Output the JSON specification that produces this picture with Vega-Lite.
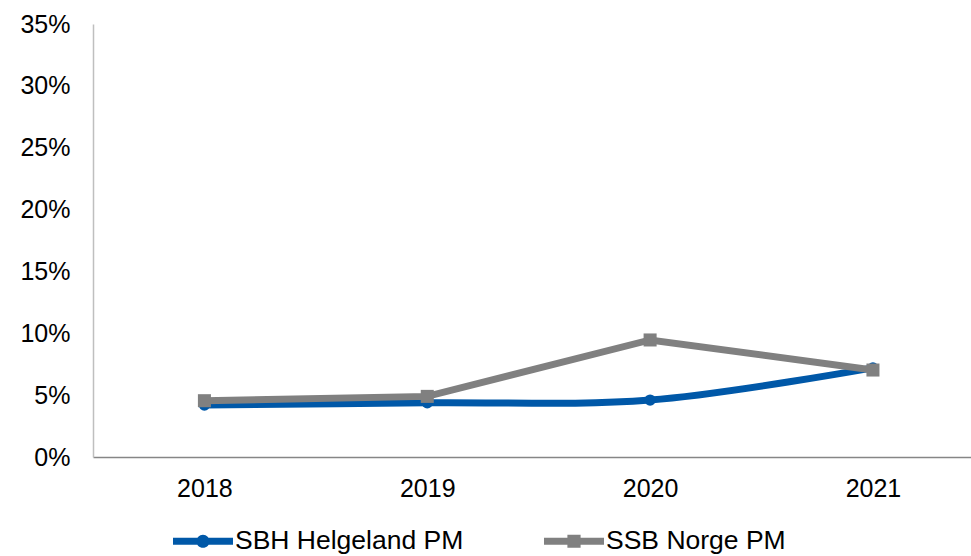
{
  "$schema": "https://vega.github.io/schema/vega-lite/v6.json",
  "width": 878,
  "height": 433,
  "autosize": {"type": "none"},
  "padding": {"left": 93, "top": 24, "right": 0, "bottom": 99},
  "background": "white",
  "config": {
    "view": {"stroke": null},
    "font": "Liberation Sans",
    "axis": {"grid": false, "ticks": false, "labelFont": "Liberation Sans", "labelFontSize": 25, "labelColor": "#000000", "title": null, "domainWidth": 1.5}
  },
  "data": {
    "values": [
      {"year": 2018, "series": "SBH Helgeland PM", "value": 0.042},
      {"year": 2019, "series": "SBH Helgeland PM", "value": 0.0438},
      {"year": 2020, "series": "SBH Helgeland PM", "value": 0.046},
      {"year": 2021, "series": "SBH Helgeland PM", "value": 0.072},
      {"year": 2018, "series": "SSB Norge PM", "value": 0.0455},
      {"year": 2019, "series": "SSB Norge PM", "value": 0.049},
      {"year": 2020, "series": "SSB Norge PM", "value": 0.0946},
      {"year": 2021, "series": "SSB Norge PM", "value": 0.0703}
    ]
  },
  "encoding": {
    "x": {
      "field": "year", "type": "quantitative",
      "scale": {"domain": [2017.5, 2021.44], "nice": false, "zero": false},
      "axis": {"values": [2018, 2019, 2020, 2021], "format": "d", "domainColor": "#868686", "labelPadding": 19}
    },
    "y": {
      "field": "value", "type": "quantitative",
      "scale": {"domain": [0, 0.35], "nice": false},
      "axis": {"values": [0, 0.05, 0.1, 0.15, 0.2, 0.25, 0.3, 0.35], "format": ".0%", "domainColor": "#BFBFBF", "labelPadding": 23}
    },
    "color": {
      "field": "series", "type": "nominal",
      "scale": {"domain": ["SBH Helgeland PM", "SSB Norge PM"], "range": ["#0058A8", "#808080"]},
      "legend": {
        "title": null,
        "orient": "none",
        "direction": "horizontal",
        "legendX": 80,
        "legendY": 487,
        "padding": 0,
        "symbolSize": 3600,
        "labelOffset": 2,
        "columnPadding": 80,
        "labelLimit": 400,
        "labelFont": "Liberation Sans",
        "labelFontSize": 26.5,
        "labelColor": "#000000",
        "encode": {
          "symbols": {
            "update": {
              "shape": {"signal": "datum.value === 'SSB Norge PM' ? 'M-1,-0.117H1V0.117H-1Z M-0.22,-0.22H0.22V0.22H-0.22Z' : 'M-1,-0.117H1V0.117H-1Z M0.22,0A0.22,0.22 0 1 1 -0.22,0A0.22,0.22 0 1 1 0.22,0Z'"},
              "fill": {"signal": "datum.value === 'SSB Norge PM' ? '#808080' : '#0058A8'"},
              "stroke": {"value": "transparent"},
              "strokeWidth": {"value": 0},
              "opacity": {"value": 1},
              "fillOpacity": {"value": 1}
            }
          }
        }
      }
    }
  },
  "layer": [
    {
      "transform": [{"filter": "datum.series === 'SBH Helgeland PM'"}],
      "mark": {"type": "line", "interpolate": "catmull-rom", "strokeWidth": 7, "strokeCap": "round"}
    },
    {
      "transform": [{"filter": "datum.series === 'SBH Helgeland PM'"}],
      "mark": {"type": "point", "shape": "circle", "filled": true, "size": 130, "opacity": 1}
    },
    {
      "transform": [{"filter": "datum.series === 'SSB Norge PM'"}],
      "mark": {"type": "line", "interpolate": "linear", "strokeWidth": 7}
    },
    {
      "transform": [{"filter": "datum.series === 'SSB Norge PM'"}],
      "mark": {"type": "point", "shape": "square", "filled": true, "size": 170, "opacity": 1}
    }
  ]
}
